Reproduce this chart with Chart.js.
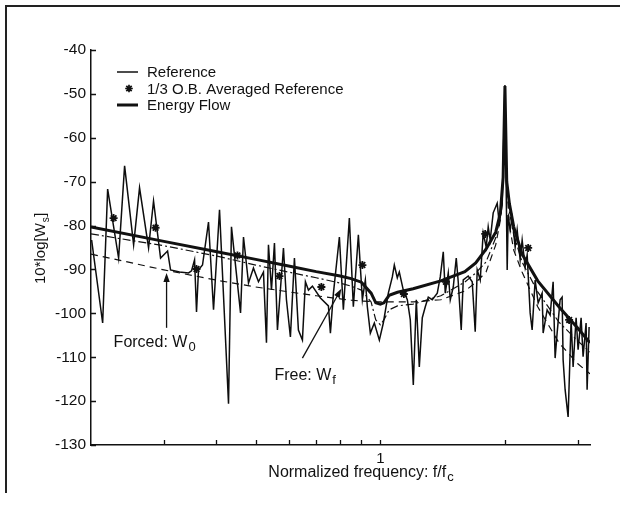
<!DOCTYPE html>
<html>
<head>
<meta charset="utf-8">
<script src="https://cdn.jsdelivr.net/npm/chart.js@4.4.1/dist/chart.umd.min.js"></script>
<style>
  html, body { margin: 0; padding: 0; background: #fff; }
  #wrap { position: relative; width: 620px; height: 506px; overflow: hidden; }
  #frame { position: absolute; left: 5px; top: 5px; width: 640px; height: 488px;
           border-top: 2.5px solid #222; border-left: 2.5px solid #222; box-sizing: border-box; }
  canvas { position: absolute; left: 0; top: 0; }
</style>
</head>
<body>
<div id="wrap">
  <div id="frame"></div>
  <canvas id="chart" width="620" height="506"></canvas>
</div>
<script>
// Values. x = f/fc, y = 10*log[Ws]

// Reference (thin, narrowband)
const refFreq = [
  0.2007, 0.2134, 0.2194, 0.2332, 0.2411, 0.2535, 0.2620, 0.2755, 0.2832, 0.2945,
  0.3062, 0.3113, 0.3273, 0.3441, 0.3499, 0.3558, 0.3597, 0.3637, 0.3719, 0.3845,
  0.3954, 0.4088, 0.4298, 0.4369, 0.4595, 0.4671, 0.4803, 0.4937, 0.5077, 0.5220,
  0.5308, 0.5367, 0.5458, 0.5549, 0.5642, 0.5834, 0.5932, 0.6064, 0.6201, 0.6340,
  0.6483, 0.6592, 0.6704, 0.6854, 0.7166, 0.7491, 0.7575, 0.7703, 0.7963, 0.8141,
  0.8417, 0.8606, 0.8850, 0.9049, 0.9200, 0.9302, 0.9460, 0.9672, 0.9945, 1.0168,
  1.0455, 1.0690, 1.0809, 1.0990, 1.1113, 1.1363, 1.1619, 1.1814, 1.2013, 1.2215,
  1.2420, 1.2629, 1.2841, 1.3057, 1.3350, 1.3726, 1.3957, 1.4192, 1.4350, 1.4592,
  1.4755, 1.5003, 1.5255, 1.5424, 1.5683, 1.5859, 1.6305, 1.6672, 1.6952, 1.7141,
  1.7429, 1.7722, 1.8020, 1.8222, 1.8425, 1.8735, 1.9156, 1.9370, 1.9697, 2.0000,
  2.0250, 2.0363, 2.0590, 2.0820, 2.1170, 2.1406, 2.1766, 2.2009, 2.2379, 2.2630,
  2.3010, 2.3267, 2.3659, 2.4057, 2.4597, 2.4734, 2.5290, 2.5715, 2.6148, 2.6440,
  2.6735, 2.7185, 2.7489, 2.7642, 2.7951, 2.8421, 2.8899, 2.9221, 2.9713, 3.0045,
  3.0550, 3.0891, 3.1411, 3.1587, 3.1940
];
const refLevel = [
  -83.3, -102.2, -71.7, -87.4, -66.4, -84.4, -71.4, -85.1, -74.4, -87.4,
  -85.8, -90.1, -90.6, -90.8, -90.3, -87.8, -99.7, -90.1, -89.0, -79.2,
  -99.2, -76.4, -120.6, -80.3, -99.9, -82.6, -93.1, -89.7, -92.8, -90.6,
  -106.7, -84.4, -94.7, -84.0, -103.8, -85.1, -96.9, -105.4, -87.4, -103.8,
  -106.1, -92.8, -94.7, -93.8, -96.5, -98.3, -104.5, -95.4, -82.6, -99.2,
  -78.3, -98.5, -82.1, -96.9, -92.4, -98.5, -104.5, -102.2, -106.1, -102.2,
  -95.4, -91.7, -89.0, -91.9, -90.6, -94.7, -96.9, -101.5, -116.3, -96.9,
  -112.2, -101.0, -98.5, -96.3, -96.9, -95.4, -91.7, -86.0, -95.4, -90.8,
  -96.9, -94.0, -87.4, -92.8, -103.8, -92.4, -91.5, -92.8, -104.2, -90.1,
  -92.4, -81.7, -84.9, -80.3, -83.3, -77.1, -74.9, -79.4, -75.3, -48.0,
  -90.1, -77.6, -81.0, -78.3, -84.9, -81.0, -87.8, -83.3, -89.4, -86.7,
  -99.9, -103.8, -92.4, -97.6, -95.4, -104.5, -99.2, -100.4, -92.8, -110.2,
  -104.5, -96.9, -96.3, -110.6, -117.4, -123.6, -101.5, -112.2, -101.0, -108.3,
  -101.0, -109.9, -102.2, -117.4, -103.1
];

// 1/3 octave band averages (asterisks)
const bandFreq  = [0.2268, 0.2864, 0.3597, 0.4517, 0.5706, 0.7204, 0.905, 1.14, 1.44, 1.792, 2.276, 2.858];
const bandLevel = [-78.3, -80.5, -89.9, -86.8, -91.5, -94.0, -89.0, -95.6, -92.8, -81.9, -85.1, -101.5];

// Model curves share one frequency grid
const modelFreq = [
  0.2, 0.3, 0.4, 0.5, 0.6, 0.7, 0.8, 0.85, 0.9, 0.95, 0.975, 1.0, 1.02, 1.05, 1.1, 1.2,
  1.4, 1.6, 1.7, 1.8, 1.9, 1.95, 1.98, 2.0, 2.02, 2.05, 2.1, 2.2, 2.4, 2.7, 3.0, 3.21
];
const energyFlow = [
  -80.3, -83.6, -85.9, -87.7, -89.2, -90.5, -91.5, -92.1, -92.9, -95.4, -97.6, -97.9, -97.6, -95.9, -95.2, -94.4,
  -92.6, -90.5, -88.5, -85.4, -81.5, -77.1, -69.0, -48.2, -70.0, -75.0, -80.3, -86.5, -92.6, -98.5, -103.4, -106.7
];
const forcedW0 = [
  -86.5, -90.1, -92.4, -94.0, -95.1, -96.0, -96.7, -97.0, -97.2, -97.3, -97.4, -97.4, -97.4, -97.4, -97.4, -97.4,
  -96.9, -94.9, -93.0, -90.6, -84.4, -78.7, -69.6, -51.4, -70.8, -79.9, -85.6, -90.6, -98.5, -106.7, -111.5, -113.8
];
const freeWf = [
  -81.9, -84.6, -86.9, -89.0, -90.6, -91.9, -93.1, -93.8, -94.7, -97.4, -101.5, -102.6, -101.5, -99.2, -98.3, -97.9,
  -96.0, -92.9, -90.8, -88.3, -82.8, -77.6, -68.5, -50.3, -69.2, -76.9, -82.1, -88.3, -95.1, -102.0, -106.3, -108.8
];

// Axis ranges and ticks
const xMin = 0.2, xMax = 3.21;
const xTickValues = [0.3, 0.4, 0.5, 0.6, 0.7, 0.8, 0.9, 1, 2, 3];
const xLabelled = [1];
const yMin = -130, yMax = -40, yStep = 10;

// Annotation anchors, in data units
const forcedArrow = { x0: 0.3045, y0: -103.3, x1: 0.3045, y1: -90.8 };
const forcedText  = { x: 0.2268, y: -107.7 };
const freeArrow   = { x0: 0.6483, y0: -110.2, x1: 0.805, y1: -94.4 };
const freeText    = { x: 0.5549, y: -115.2 };

const INK = '#111';
const FONT = '"Liberation Sans", Arial, Helvetica, sans-serif';

function pts(xs, ys) {
  return xs.map((x, i) => ({ x: x, y: ys[i] }));
}

function drawStar(ctx, x, y, r) {
  ctx.beginPath();
  for (let k = 0; k < 4; k++) {
    const a = k * Math.PI / 4;
    ctx.moveTo(x - r * Math.cos(a), y - r * Math.sin(a));
    ctx.lineTo(x + r * Math.cos(a), y + r * Math.sin(a));
  }
  ctx.stroke();
}

function textWithSub(ctx, main, sub, x, y, size, subSize, align) {
  ctx.font = size + 'px ' + FONT;
  const w1 = ctx.measureText(main).width;
  ctx.font = subSize + 'px ' + FONT;
  const w2 = ctx.measureText(sub).width;
  let left = x;
  if (align === 'center') left = x - (w1 + 1 + w2) / 2;
  ctx.textAlign = 'left';
  ctx.textBaseline = 'alphabetic';
  ctx.font = size + 'px ' + FONT;
  ctx.fillText(main, left, y);
  ctx.font = subSize + 'px ' + FONT;
  ctx.fillText(sub, left + w1 + 1, y + 4);
  return left + w1 + 1 + w2;
}

function arrow(ctx, x0, y0, x1, y1) {
  const ang = Math.atan2(y1 - y0, x1 - x0);
  const len = 9, half = 3.2;
  ctx.beginPath();
  ctx.moveTo(x0, y0);
  ctx.lineTo(x1 - len * 0.8 * Math.cos(ang), y1 - len * 0.8 * Math.sin(ang));
  ctx.stroke();
  ctx.beginPath();
  ctx.moveTo(x1, y1);
  ctx.lineTo(x1 - len * Math.cos(ang) + half * Math.sin(ang), y1 - len * Math.sin(ang) - half * Math.cos(ang));
  ctx.lineTo(x1 - len * Math.cos(ang) - half * Math.sin(ang), y1 - len * Math.sin(ang) + half * Math.cos(ang));
  ctx.closePath();
  ctx.fill();
}

// Inward tick marks, axis titles, legend and annotations
const decorPlugin = {
  id: 'decor',
  afterDraw(chart) {
    const { ctx, chartArea: a, scales } = chart;
    const xs = scales.x, ys = scales.y;
    ctx.save();
    ctx.strokeStyle = INK;
    ctx.fillStyle = INK;

    // tick marks pointing into the plot
    ctx.lineWidth = 1.3;
    ctx.beginPath();
    xs.ticks.forEach(t => {
      const px = Math.round(xs.getPixelForValue(t.value)) + 0.5;
      ctx.moveTo(px, a.bottom);
      ctx.lineTo(px, a.bottom - 5);
    });
    ys.ticks.forEach(t => {
      const py = Math.round(ys.getPixelForValue(t.value)) + 0.5;
      ctx.moveTo(a.left, py);
      ctx.lineTo(a.left + 5, py);
    });
    ctx.stroke();

    // axis titles
    textWithSub(ctx, 'Normalized frequency: f/f', 'c', 361, 477, 16, 13, 'center');
    ctx.save();
    ctx.translate(45, 248);
    ctx.rotate(-Math.PI / 2);
    textWithSub(ctx, '10*log[W', 's', -36, 0, 15, 10, 'left');
    ctx.font = '15px ' + FONT;
    const wMain = ctx.measureText('10*log[W').width;
    ctx.font = '10px ' + FONT;
    const wSub = ctx.measureText('s').width;
    ctx.font = '15px ' + FONT;
    ctx.fillText(']', -36 + wMain + 1 + wSub + 0.5, 0);
    ctx.restore();

    // legend
    ctx.font = '15px ' + FONT;
    ctx.textAlign = 'left';
    ctx.textBaseline = 'middle';
    ctx.lineWidth = 1.5;
    ctx.beginPath(); ctx.moveTo(117, 72); ctx.lineTo(138, 72); ctx.stroke();
    ctx.fillText('Reference', 147, 73);
    ctx.lineWidth = 1.7;
    drawStar(ctx, 129, 88.5, 3.8);
    ctx.fillText('1/3 O.B. Averaged Reference', 147, 89.5);
    ctx.lineWidth = 3;
    ctx.beginPath(); ctx.moveTo(117, 105); ctx.lineTo(138, 105); ctx.stroke();
    ctx.fillText('Energy Flow', 147, 106);

    // annotations
    ctx.lineWidth = 1.3;
    arrow(ctx, xs.getPixelForValue(forcedArrow.x0), ys.getPixelForValue(forcedArrow.y0),
               xs.getPixelForValue(forcedArrow.x1), ys.getPixelForValue(forcedArrow.y1));
    arrow(ctx, xs.getPixelForValue(freeArrow.x0), ys.getPixelForValue(freeArrow.y0),
               xs.getPixelForValue(freeArrow.x1), ys.getPixelForValue(freeArrow.y1));
    textWithSub(ctx, 'Forced: W', '0', xs.getPixelForValue(forcedText.x), ys.getPixelForValue(forcedText.y), 16, 13, 'left');
    textWithSub(ctx, 'Free: W', 'f', xs.getPixelForValue(freeText.x), ys.getPixelForValue(freeText.y), 16, 13, 'left');
    ctx.restore();
  }
};

const ctx = document.getElementById('chart').getContext('2d');
new Chart(ctx, {
  type: 'line',
  data: {
    datasets: [
      {
        label: '1/3 O.B. Averaged Reference',
        data: pts(bandFreq, bandLevel),
        showLine: false,
        pointStyle: 'star',
        pointRadius: 4,
        pointBorderWidth: 1.8,
        pointBorderColor: INK,
        pointBackgroundColor: INK,
        order: 0
      },
      {
        label: 'Energy Flow',
        data: pts(modelFreq, energyFlow),
        borderColor: INK,
        borderWidth: 3,
        pointRadius: 0,
        order: 1
      },
      {
        label: 'Reference',
        data: pts(refFreq, refLevel),
        borderColor: '#0d0d0d',
        borderWidth: 1.5,
        pointRadius: 0,
        order: 2
      },
      {
        label: 'Free: Wf',
        data: pts(modelFreq, freeWf),
        borderColor: INK,
        borderWidth: 1.2,
        borderDash: [8, 3, 2, 3],
        pointRadius: 0,
        order: 3
      },
      {
        label: 'Forced: W0',
        data: pts(modelFreq, forcedW0),
        borderColor: INK,
        borderWidth: 1.2,
        borderDash: [7, 5],
        pointRadius: 0,
        order: 4
      }
    ]
  },
  options: {
    responsive: false,
    animation: false,
    devicePixelRatio: 1,
    layout: { padding: { left: 0, right: 30, top: 50, bottom: 0 } },
    elements: { line: { tension: 0, fill: false } },
    plugins: { legend: { display: false }, tooltip: { enabled: false } },
    scales: {
      x: {
        type: 'logarithmic',
        min: xMin,
        max: xMax,
        afterFit(scale) { scale.height = 61; },
        afterBuildTicks(scale) { scale.ticks = xTickValues.map(v => ({ value: v })); },
        grid: { display: false, drawTicks: false },
        border: { display: true, color: INK, width: 1.5 },
        ticks: {
          autoSkip: false,
          maxRotation: 0,
          padding: 5,
          color: INK,
          font: { family: FONT, size: 15 },
          callback: v => xLabelled.includes(v) ? String(v) : ''
        }
      },
      y: {
        min: yMin,
        max: yMax,
        afterFit(scale) { scale.width = 91; },
        grid: { display: false, drawTicks: false },
        border: { display: true, color: INK, width: 1.5 },
        ticks: {
          stepSize: yStep,
          padding: 5,
          color: INK,
          font: { family: FONT, size: 15.5 }
        }
      }
    }
  },
  plugins: [decorPlugin]
});
</script>
</body>
</html>
